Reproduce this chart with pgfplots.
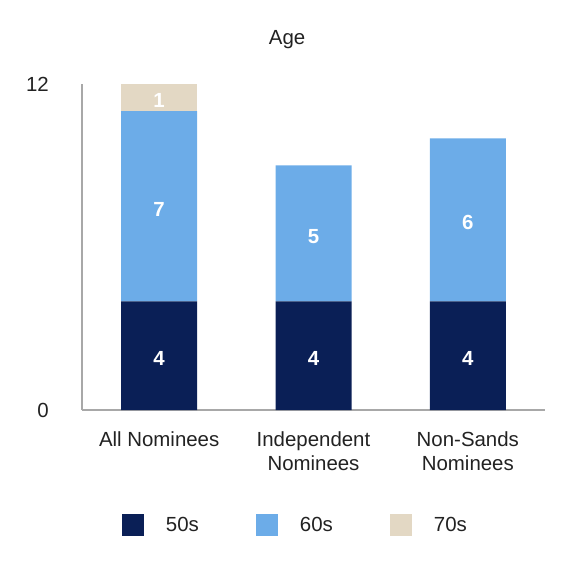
\documentclass[border=0pt]{standalone}
\usepackage{fontspec}
\setmainfont{Liberation Sans}
\usepackage{pgfplots}
\pgfplotsset{compat=1.18}
\definecolor{c50}{HTML}{0A1F56}
\definecolor{c60}{HTML}{6CACE8}
\definecolor{c70}{HTML}{E3D8C4}
\definecolor{axgray}{HTML}{A8A8A8}
\definecolor{txt}{HTML}{222222}
\newcommand{\lf}{\fontsize{20.5}{25}\selectfont}
\begin{document}
\begin{tikzpicture}
\useasboundingbox (-82bp,-166bp) rectangle (494bp,410bp);
\pgfplotsset{common/.style={at={(0,0)}, anchor=south west, scale only axis,
  width=463bp, height=326bp, xmin=-0.5, xmax=2.5, ymin=0, ymax=12}}
\begin{axis}[common, ybar stacked, bar width=76bp,
  axis lines=left, axis line style={axgray, line width=1.5bp, -},
  ytick={0,12}, xtick={0,1,2},
  xticklabels={All Nominees, Independent\\Nominees, Non-Sands\\Nominees},
  major tick length=0pt, tick style={draw=none},
  /pgf/number format/assume math mode=true,
  ticklabel style={font=\lf, text=txt},
  yticklabel style={anchor=east, inner sep=0pt, xshift=-33bp},
  xticklabel style={anchor=north, align=center, inner sep=0pt, yshift=-21bp},
  title={Age},
  title style={at={(axis description cs:0.443,1)}, anchor=base, yshift=34bp, font=\lf, text=txt, inner sep=0pt},
  legend columns=3,
  legend style={at={(axis description cs:0.0864,-0.353)}, anchor=west, draw=none, inner sep=0pt, outer sep=0pt,
    nodes={inner sep=0pt, text width=90bp, align=left, font=\lf, text=txt}},
  legend image code/.code={\fill[#1] (0bp,-11bp) rectangle (22bp,11bp); \path (44bp,0bp);},
]
\addplot[fill=c50, draw=none] coordinates {(0,4) (1,4) (2,4)};
\addplot[fill=c60, draw=none] coordinates {(0,7) (1,5) (2,6)};
\addplot[fill=c70, draw=none] coordinates {(0,1)};
\legend{50s,60s,70s}
\end{axis}
\begin{axis}[common, hide axis]
\addplot[only marks, mark=none, nodes near coords, point meta=explicit symbolic,
  nodes near coords style={anchor=center, yshift=-3bp, text=white, font=\lf\bfseries}]
  table[meta=label] {
x y label
0 2 4
1 2 4
2 2 4
0 7.5 7
1 6.5 5
2 7 6
0 11.5 1
};
\end{axis}
\end{tikzpicture}
\end{document}
